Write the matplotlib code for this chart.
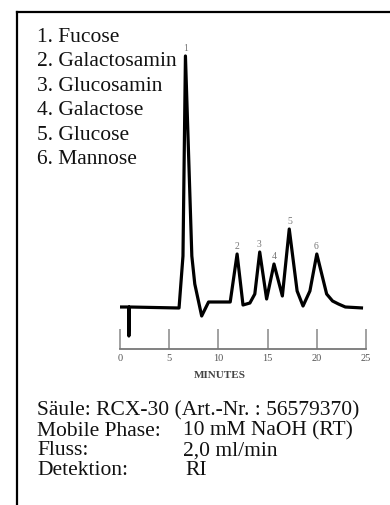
import matplotlib
matplotlib.use("Agg")
import matplotlib.pyplot as plt
from matplotlib.lines import Line2D

# ---- data ----
time_min = [0, 0.9, 0.9, 0.95, 6.0, 6.4, 6.65, 7.3, 7.6, 8.3, 9.0, 11.2, 11.9, 12.5,
            13.2, 13.7, 14.2, 14.9, 15.65, 16.5, 17.2, 18.0, 18.6, 19.3, 20.0, 21.0,
            21.6, 22.2, 22.9, 24.7]
signal = [1, 1, -28, 1, 0, 52, 252, 52, 24, -8, 6, 6, 54, 3,
          5, 14, 56, 9, 44, 12, 79, 17, 2, 17, 54, 14,
          7, 4, 1, 0]
peak_labels = ["1", "2", "3", "4", "5", "6"]
peak_times = [6.65, 11.9, 14.15, 15.7, 17.25, 19.95]
peak_heights = [252, 54, 56, 44, 79, 54]
x_ticks = [0, 5, 10, 15, 20, 25]
compounds = ["1. Fucose", "2. Galactosamin", "3. Glucosamin", "4. Galactose",
             "5. Glucose", "6. Mannose"]
info_left = ["Mobile Phase:", "Fluss:", "Detektion:"]
info_right = ["10 mM NaOH (RT)", "2,0 ml/min", "RI"]
column_text = "Säule: RCX-30 (Art.-Nr. : 56579370)"

W, H = 390, 506
fig = plt.figure(figsize=(W / 100, H / 100), dpi=100)
fig.patch.set_facecolor("white")
serif = ["Liberation Serif", "DejaVu Serif"]
FS = 15.5

def fx(px):
    return px / W

def fy(py):
    return 1 - py / H

# frame (top + left)
fig.add_artist(Line2D([fx(17), fx(390)], [fy(12.5), fy(12.5)], color="black", lw=1.6))
fig.add_artist(Line2D([fx(17), fx(17)], [fy(12.5), fy(506)], color="black", lw=1.6))

# chromatogram axes
ax = fig.add_axes([fx(120), fy(350), fx(366) - fx(120), (350 - 40) / H])
ax.set_xlim(0, 25)
ax.set_ylim(-41, 269)
ax.plot(time_min, signal, color="black", lw=2.3, solid_joinstyle="round",
        solid_capstyle="butt", clip_on=False)
for lab, t, h in zip(peak_labels, peak_times, peak_heights):
    ax.annotate(lab, (t, h), xytext=(0, 3), textcoords="offset points",
                ha="center", va="bottom", fontsize=7, color="#777777", family=serif)

for s in ["top", "right", "left"]:
    ax.spines[s].set_visible(False)
ax.spines["bottom"].set_color("#777777")
ax.spines["bottom"].set_linewidth(1.3)
ax.set_yticks([])
ax.set_xticks(x_ticks)
ax.set_xticklabels([str(v) for v in x_ticks])
ax.tick_params(axis="x", direction="in", length=14.5, width=1.1, color="#888888",
               labelsize=7.5, labelcolor="#555555", pad=3)
for lbl in ax.get_xticklabels():
    lbl.set_family(serif)
ax.patch.set_alpha(0)

fig.text(fx(220), fy(375), "MINUTES", ha="center", va="center", fontsize=8,
         color="#444444", family=serif, weight="bold")

# compound list
for i, c in enumerate(compounds):
    fig.text(fx(37), fy(35 + i * 24.6 + 6.5), c, ha="left", va="baseline", fontsize=FS,
             family=serif, color="#111111")

# method info
fig.text(fx(37), fy(409 + 6.5), column_text, ha="left", va="baseline", fontsize=FS,
         family=serif, color="#111111")
for i, (a, b) in enumerate(zip(info_left, info_right)):
    y = fy(429 + i * 20 + 6.5)
    fig.text(fx(37), y, a, ha="left", va="baseline", fontsize=FS, family=serif, color="#111111")
    fig.text(fx(183 if i < 2 else 185), y, b, ha="left", va="baseline", fontsize=FS,
             family=serif, color="#111111")

fig.savefig("out.png", dpi=100)
